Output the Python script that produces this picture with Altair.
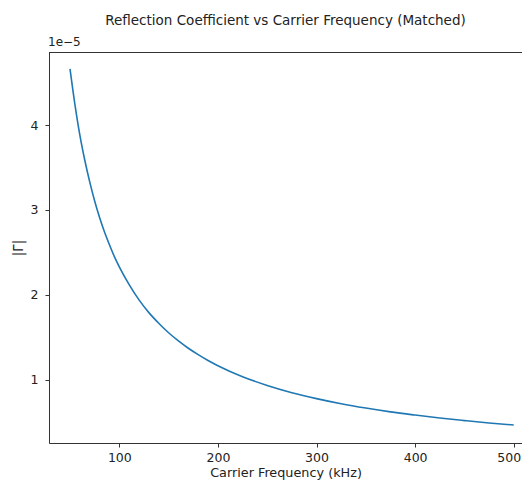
import altair as alt
import pandas as pd

freq_khz = [50, 55, 60, 65, 70, 75, 80, 85, 90, 95, 100, 110, 120, 130, 140, 150,
            160, 170, 180, 190, 200, 225, 250, 275, 300, 325, 350, 375, 400, 425,
            450, 475, 500]
gamma_e5 = [4.66, 4.24, 3.88, 3.585, 3.33, 3.105, 2.91, 2.74, 2.59, 2.45, 2.33, 2.12,
            1.94, 1.79, 1.665, 1.553, 1.456, 1.37, 1.295, 1.226, 1.165, 1.035, 0.932,
            0.847, 0.777, 0.717, 0.666, 0.621, 0.583, 0.548, 0.518, 0.49, 0.466]
x_ticks = [100, 200, 300, 400, 500]
y_ticks = [1, 2, 3, 4]

df = pd.DataFrame({"f": freq_khz, "g": gamma_e5})
one = pd.DataFrame({"k": [0]})

FONT = "DejaVu Sans"
W, H = 473, 391
XMAX = 28.7 + W / 0.986

line = alt.Chart(df).mark_line(color="#1f77b4", strokeWidth=1.6, interpolate="monotone").encode(
    x=alt.X("f:Q", scale=alt.Scale(domain=[28.7, XMAX], nice=False, zero=False),
            axis=alt.Axis(values=x_ticks, format="d", grid=False,
                          title="Carrier Frequency (kHz)", domainColor="#333", tickColor="#333",
                          tickSize=4, labelPadding=4, labelFontSize=12.5, titleFontSize=12.8,
                          titleFontWeight="normal", labelColor="#222", titleColor="#222",
                          labelFont=FONT, titleFont=FONT, titlePadding=13,
                          titleBaseline="alphabetic",
                          labelOffset={"expr": "datum.value === 500 ? -5 : 0"})),
    y=alt.Y("g:Q", scale=alt.Scale(domain=[0.254, 4.86], nice=False, zero=False),
            axis=alt.Axis(values=y_ticks, format="d", grid=False, title="|Γ|",
                          domainColor="#333", tickColor="#333", tickSize=4, labelPadding=7,
                          labelFontSize=12.5, titleFontSize=13.3, titleFontWeight="normal",
                          labelColor="#222", titleColor="#222", labelFont=FONT, titleFont=FONT,
                          titlePadding=5)),
)

top_rule = alt.Chart(one).mark_rule(color="#333", strokeWidth=1).encode(
    x=alt.value(0), x2=alt.value(W), y=alt.value(0.5)
)

offset_text = alt.Chart(one).mark_text(
    text="1e−5", align="left", baseline="alphabetic", font=FONT, fontSize=12, color="#222"
).encode(x=alt.value(-1), y=alt.value(-6))

chart = alt.layer(line, top_rule, offset_text).properties(
    width=W, height=H,
    title=alt.TitleParams("Reflection Coefficient vs Carrier Frequency (Matched)",
                          font=FONT, fontSize=13.5, fontWeight="normal", color="#222",
                          anchor="middle", offset=9),
    autosize=alt.AutoSizeParams(type="none"),
    padding={"left": 41, "top": 44, "right": 0, "bottom": 37},
).configure_view(stroke=None).configure(background="white")

chart.save("out.html", embed_options={"renderer": "svg", "actions": False})
